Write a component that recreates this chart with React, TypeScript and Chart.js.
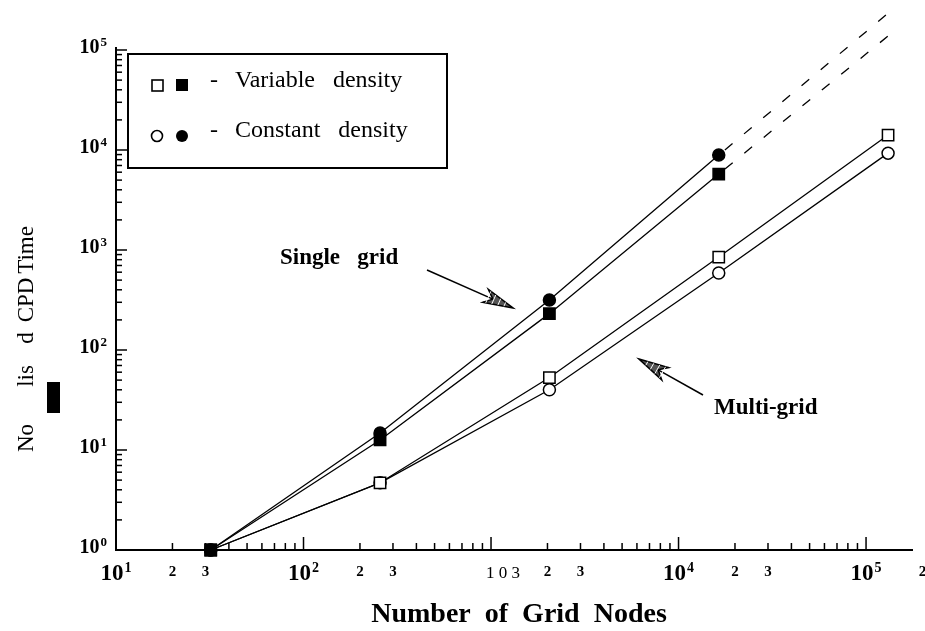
import { useEffect, useRef } from 'react';
import { Chart, registerables } from 'chart.js';

Chart.register(...registerables);

// ---------- data ----------
const nodes = [32, 256, 2048, 16384, 131072];
const singleVariable = [1, 12.6, 231, 5750];
const singleConstant = [1, 14.8, 316, 8900];
const multiVariable = [1, 4.7, 53, 850, 14100];
const multiConstant = [1, 4.7, 40, 590, 9300];
const extrapNodes = [16384, 131072];
const singleVariableExtrap = [5750, 138000];
const singleConstantExtrap = [8900, 233000];

const xMin = 10;
const xMax = 178000;
const yMin = 1;
const yMax = 100000;

const xMajorTicks = [10, 100, 1000, 10000, 100000];
const xMajorBase = ['10', '10', '1 0 3', '10', '10'];
const xMajorExp = ['1', '2', '', '4', '5'];
const xMinorLabelTicks = [20, 30, 200, 300, 2000, 3000, 20000, 30000, 200000];
const xMinorLabels = ['2', '3', '2', '3', '2', '3', '2', '3', '2'];

const yMajorTicks = [1, 10, 100, 1000, 10000, 100000];
const yMajorBase = ['10', '10', '10', '10', '10', '10'];
const yMajorExp = ['0', '1', '2', '3', '4', '5'];

const legendRows = ['Variable   density', 'Constant   density'];
const xTitle = 'Number  of  Grid  Nodes';
const yTitleParts = ['No', 'lis', 'd', 'CPD', 'Time'];
const singleLabel = 'Single   grid';
const multiLabel = 'Multi-grid';

const FONT = '"Liberation Serif", "Times New Roman", serif';

function minorValues(max: number): number[] {
  const out: number[] = [];
  for (let d = 10; d <= max; d *= 10) {
    for (let k = 2; k <= 9; k++) {
      if (d * k <= max) out.push(d * k);
    }
  }
  return out;
}

function drawSup(
  ctx: CanvasRenderingContext2D,
  base: string,
  exp: string,
  x: number,
  baseline: number,
  baseFont: string,
  expFont: string,
  raise: number,
  align: 'center' | 'right'
) {
  ctx.font = baseFont;
  const wb = ctx.measureText(base).width;
  ctx.font = expFont;
  const we = exp ? ctx.measureText(exp).width + 1 : 0;
  const total = wb + we;
  const sx = align === 'center' ? x - total / 2 : x - total;
  ctx.textAlign = 'left';
  ctx.textBaseline = 'alphabetic';
  ctx.font = baseFont;
  ctx.fillText(base, sx, baseline);
  if (exp) {
    ctx.font = expFont;
    ctx.fillText(exp, sx + wb + 1, baseline - raise);
  }
}

function drawArrow(ctx: CanvasRenderingContext2D, x0: number, y0: number, x1: number, y1: number) {
  const dx = x1 - x0;
  const dy = y1 - y0;
  const len = Math.hypot(dx, dy);
  const ux = dx / len;
  const uy = dy / len;
  const headLen = 30;
  const headW = 7;
  const bx = x1 - ux * headLen;
  const by = y1 - uy * headLen;
  ctx.lineWidth = 1.5;
  ctx.strokeStyle = '#000';
  ctx.beginPath();
  ctx.moveTo(x0, y0);
  ctx.lineTo(bx + ux * 8, by + uy * 8);
  ctx.stroke();
  ctx.beginPath();
  ctx.moveTo(x1, y1);
  ctx.lineTo(bx - uy * headW, by + ux * headW);
  ctx.lineTo(bx + ux * 8, by + uy * 8);
  ctx.lineTo(bx + uy * headW, by - ux * headW);
  ctx.closePath();
  ctx.fillStyle = '#555';
  ctx.fill();
  ctx.stroke();
  ctx.lineWidth = 1;
  for (let t = 0.3; t < 0.9; t += 0.2) {
    const px = x1 - ux * headLen * t;
    const py = y1 - uy * headLen * t;
    const w = headW * t;
    ctx.beginPath();
    ctx.moveTo(px - uy * w, py + ux * w);
    ctx.lineTo(px + uy * w, py - ux * w);
    ctx.strokeStyle = '#fff';
    ctx.stroke();
  }
  ctx.strokeStyle = '#000';
}

const paperPlugin = {
  id: 'paperAxes',
  beforeDatasetsDraw(chart: any) {
    const { ctx, chartArea: a, scales } = chart;
    const x = scales.x;
    const y = scales.y;
    ctx.save();
    ctx.strokeStyle = '#000';
    ctx.fillStyle = '#000';
    ctx.lineWidth = 2;
    ctx.beginPath();
    ctx.moveTo(a.left, a.top - 3);
    ctx.lineTo(a.left, a.bottom);
    ctx.lineTo(a.right, a.bottom);
    ctx.stroke();

    ctx.lineWidth = 1.5;
    for (const v of minorValues(xMax)) {
      const px = x.getPixelForValue(v);
      ctx.beginPath();
      ctx.moveTo(px, a.bottom);
      ctx.lineTo(px, a.bottom - 7);
      ctx.stroke();
    }
    for (const v of xMajorTicks) {
      const px = x.getPixelForValue(v);
      ctx.beginPath();
      ctx.moveTo(px, a.bottom);
      ctx.lineTo(px, a.bottom - 13);
      ctx.stroke();
    }
    for (const v of minorValues(yMax).concat([2, 3, 4, 5, 6, 7, 8, 9])) {
      const py = y.getPixelForValue(v);
      ctx.beginPath();
      ctx.moveTo(a.left, py);
      ctx.lineTo(a.left + 6, py);
      ctx.stroke();
    }
    for (const v of yMajorTicks) {
      const py = y.getPixelForValue(v);
      ctx.beginPath();
      ctx.moveTo(a.left, py);
      ctx.lineTo(a.left + 11, py);
      ctx.stroke();
    }

    xMajorTicks.forEach((v, i) => {
      const px = x.getPixelForValue(v);
      if (xMajorExp[i]) {
        drawSup(ctx, xMajorBase[i], xMajorExp[i], px, 580, `bold 23px ${FONT}`, `bold 14px ${FONT}`, 8, 'center');
      } else {
        ctx.font = `17px ${FONT}`;
        ctx.textAlign = 'center';
        ctx.textBaseline = 'alphabetic';
        ctx.fillText(xMajorBase[i], px + 12, 578);
      }
    });
    ctx.font = `bold 15px ${FONT}`;
    ctx.textAlign = 'center';
    ctx.textBaseline = 'alphabetic';
    xMinorLabelTicks.forEach((v, i) => {
      const px = x.getPixelForValue(v);
      ctx.fillText(xMinorLabels[i], px, 576);
    });

    yMajorTicks.forEach((v, i) => {
      const py = y.getPixelForValue(v);
      drawSup(ctx, yMajorBase[i], yMajorExp[i], a.left - 9, py + 3, `bold 20px ${FONT}`, `bold 13px ${FONT}`, 7, 'right');
    });
    ctx.restore();
  },
  afterDraw(chart: any) {
    const { ctx } = chart;
    ctx.save();
    ctx.fillStyle = '#000';
    ctx.strokeStyle = '#000';

    ctx.lineWidth = 2;
    ctx.fillStyle = '#fff';
    ctx.fillRect(128, 54, 319, 114);
    ctx.strokeRect(128, 54, 319, 114);
    ctx.fillStyle = '#000';
    ctx.lineWidth = 1.6;
    ctx.fillStyle = '#fff';
    ctx.fillRect(152, 80, 11, 11);
    ctx.strokeRect(152, 80, 11, 11);
    ctx.fillStyle = '#000';
    ctx.fillRect(176, 79, 12, 12);
    ctx.beginPath();
    ctx.arc(157, 136, 5.5, 0, Math.PI * 2);
    ctx.fillStyle = '#fff';
    ctx.fill();
    ctx.stroke();
    ctx.beginPath();
    ctx.arc(182, 136, 6, 0, Math.PI * 2);
    ctx.fillStyle = '#000';
    ctx.fill();
    ctx.font = `24px ${FONT}`;
    ctx.textAlign = 'left';
    ctx.textBaseline = 'alphabetic';
    ctx.fillText('-', 210, 87);
    ctx.fillText('-', 210, 137);
    ctx.fillText(legendRows[0], 235, 87);
    ctx.fillText(legendRows[1], 235, 137);

    ctx.font = `bold 23px ${FONT}`;
    ctx.fillText(singleLabel, 280, 264);
    ctx.fillText(multiLabel, 714, 414);
    drawArrow(ctx, 427, 270, 513, 308);
    drawArrow(ctx, 703, 395, 639, 359);

    ctx.fillStyle = '#000';
    ctx.font = `bold 28px ${FONT}`;
    ctx.textAlign = 'center';
    ctx.fillText(xTitle, 519, 622);

    const centers = [438, 376, 338, 300, 250];
    ctx.font = `23px ${FONT}`;
    yTitleParts.forEach((p, i) => {
      ctx.save();
      ctx.translate(33, centers[i]);
      ctx.rotate(-Math.PI / 2);
      ctx.textAlign = 'center';
      ctx.textBaseline = 'alphabetic';
      ctx.fillText(p, 0, 0);
      ctx.restore();
    });
    ctx.fillRect(47, 382, 13, 31);
    ctx.restore();
  },
};

function pts(xs: number[], ys: number[]) {
  return ys.map((v, i) => ({ x: xs[i], y: v }));
}

export default function App() {
  const ref = useRef<HTMLCanvasElement | null>(null);
  useEffect(() => {
    if (!ref.current) return;
    const common = {
      borderColor: '#000',
      borderWidth: 1.3,
      pointBorderColor: '#000',
      pointBorderWidth: 1.5,
      clip: false as any,
      tension: 0,
    };
    const chart = new Chart(ref.current, {
      type: 'line',
      data: {
        datasets: [
          {
            ...common,
            label: 'Single grid – variable density',
            data: pts(nodes, singleVariable),
            pointStyle: 'rect',
            pointRadius: 8,
            pointBackgroundColor: '#000',
          },
          {
            ...common,
            label: 'Single grid – constant density',
            data: pts(nodes, singleConstant),
            pointStyle: 'circle',
            pointRadius: 6,
            pointBackgroundColor: '#000',
          },
          {
            ...common,
            label: 'Multi-grid – variable density',
            data: pts(nodes, multiVariable),
            pointStyle: 'rect',
            pointRadius: 8,
            pointBackgroundColor: '#fff',
          },
          {
            ...common,
            label: 'Multi-grid – constant density',
            data: pts(nodes, multiConstant),
            pointStyle: 'circle',
            pointRadius: 6,
            pointBackgroundColor: '#fff',
          },
          {
            ...common,
            label: 'Single grid – variable density (extrapolated)',
            data: pts(extrapNodes, singleVariableExtrap),
            pointRadius: 0,
            borderDash: [10, 15],
            borderDashOffset: -8,
          },
          {
            ...common,
            label: 'Single grid – constant density (extrapolated)',
            data: pts(extrapNodes, singleConstantExtrap),
            pointRadius: 0,
            borderDash: [10, 15],
            borderDashOffset: -8,
          },
        ],
      },
      options: {
        animation: false,
        responsive: false,
        maintainAspectRatio: false,
        layout: { padding: { left: 116, right: 12, top: 50, bottom: 81 } },
        plugins: {
          legend: { display: false },
          tooltip: { enabled: false },
        },
        scales: {
          x: { type: 'logarithmic', min: xMin, max: xMax, display: false },
          y: { type: 'logarithmic', min: yMin, max: yMax, display: false },
        },
      },
      plugins: [paperPlugin],
    });
    return () => chart.destroy();
  }, []);
  return (
    <div style={{ position: 'absolute', left: 0, top: 0, width: 925, height: 631, background: '#fff' }}>
      <canvas ref={ref} width={925} height={631} style={{ display: 'block' }} />
    </div>
  );
}
